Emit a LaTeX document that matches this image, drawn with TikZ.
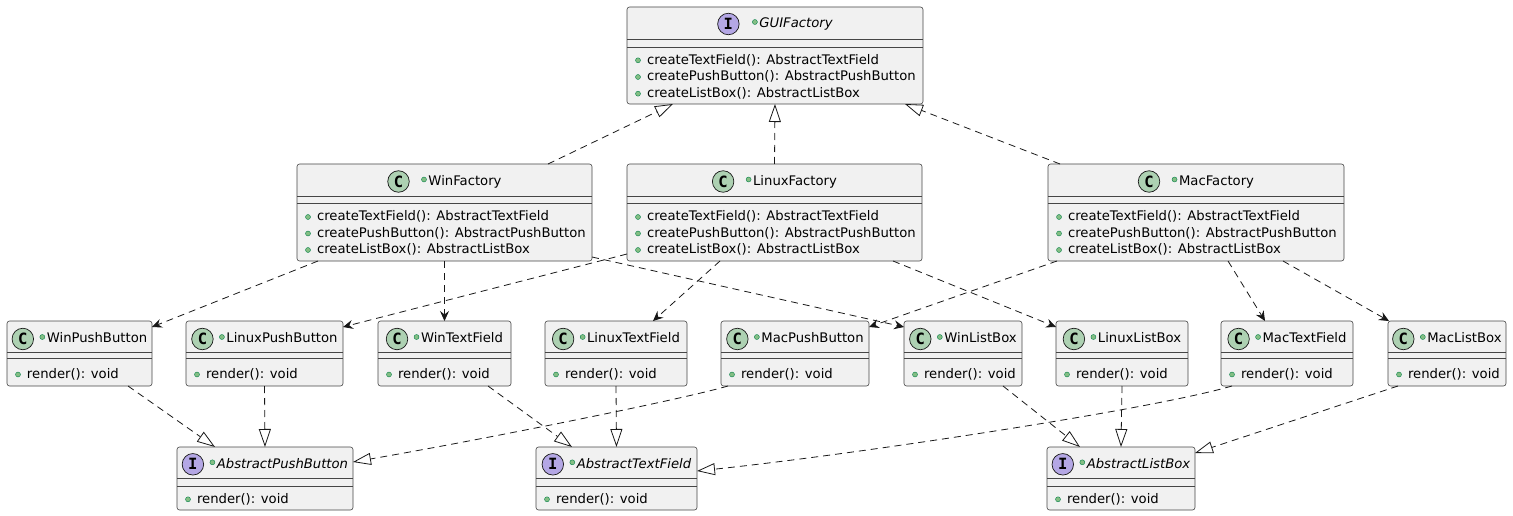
\documentclass[tikz,border=0pt]{standalone}
\usepackage{fontspec}
\setmainfont{DejaVu Sans}
\newfontfamily\iconfont{DejaVu Sans Mono}
\usetikzlibrary{arrows.meta}

\definecolor{boxfill}{HTML}{F1F1F1}
\definecolor{boxline}{HTML}{181818}
\definecolor{classicon}{HTML}{ADD1B2}
\definecolor{ifaceicon}{HTML}{B4A7E5}
\definecolor{pubfill}{HTML}{84BE84}
\definecolor{publine}{HTML}{038048}

\tikzset{
  umlbox/.style={draw=boxline!80, fill=boxfill, line width=0.6pt, rounded corners=2.5pt,
    inner sep=0pt, outer sep=0pt},
  rule/.style={draw=boxline!80, line width=0.6pt},
  txt/.style={inner sep=0pt, outer sep=0pt, text height=9.6pt, text depth=0pt,
    font=\fontsize{13.2}{15}\selectfont},
  icon/.style={circle, draw=boxline, line width=0.7pt, minimum size=21.5pt, inner sep=0pt,
    font=\iconfont\bfseries\fontsize{15.5}{15.5}\selectfont},
  pubdot/.style={circle, fill=pubfill, draw=publine, line width=0.4pt, minimum size=5pt,
    inner sep=0pt},
  link/.style={draw=boxline, line width=0.8pt, dash pattern=on 7pt off 5pt},
  uses/.style={link, -{Stealth[length=10pt,width=9pt,inset=3.5pt]}},
  realizes/.style={link, -{Triangle[length=18pt,width=12pt,fill=white]}},
}

% box frame: name, x1, y1, x2, y2, first rule y, second rule y
\newcommand\umlframe[7]{%
  \node[umlbox, minimum width={(#4-#2)*1pt}, minimum height={(#5-#3)*1pt}]
    (#1) at ({(#2+#4)/2},{(#3+#5)/2}) {};
  \draw[rule] (#2,#6) -- (#4,#6);
  \draw[rule] (#2,#7) -- (#4,#7);
}
% header: name, icon fill, letter, centre x, centre y, icon offset, title
\newcommand\umlhead[7]{%
  \node[txt] (#1-t) at ({#4+(11+#6)/2},#5) {#7};
  \node[icon, fill=#2] (#1-i) at ([xshift=-#6pt, yshift=-1pt]#1-t.west) {#3};
  \node[pubdot] (#1-d) at ([xshift=-4.5pt, yshift=1pt]#1-t.west) {};
}
% public operation: name, box left x, centre y, text
\newcommand\umlop[4]{%
  \node[pubdot] (#1-d) at ({#2+11},{#3+1}) {};
  \node[txt, anchor=west] (#1) at ({#2+20},#3) {#4};
}

\begin{document}
\begin{tikzpicture}[x=1pt,y=-1pt]
\useasboundingbox (0,0) rectangle (1513,516);

% abstract factory interface
\umlframe{gf}{627}{7}{923}{104}{39}{47}
\umlhead{gf}{ifaceicon}{I}{775}{23}{31}{\itshape GUIFactory}
\umlop{gf-1}{627}{59.3}{createTextField(): AbstractTextField}
\umlop{gf-2}{627}{76}{createPushButton(): AbstractPushButton}
\umlop{gf-3}{627}{92.7}{createListBox(): AbstractListBox}

% concrete factories
\umlframe{wf}{297}{164}{592}{261}{196}{203}
\umlhead{wf}{classicon}{C}{444.5}{180.5}{30}{WinFactory}
\umlop{wf-1}{297}{216}{createTextField(): AbstractTextField}
\umlop{wf-2}{297}{232.5}{createPushButton(): AbstractPushButton}
\umlop{wf-3}{297}{249}{createListBox(): AbstractListBox}

\umlframe{lf}{627}{164}{922}{261}{196}{203}
\umlhead{lf}{classicon}{C}{774.5}{180.5}{30}{LinuxFactory}
\umlop{lf-1}{627}{216}{createTextField(): AbstractTextField}
\umlop{lf-2}{627}{232.5}{createPushButton(): AbstractPushButton}
\umlop{lf-3}{627}{249}{createListBox(): AbstractListBox}

\umlframe{mf}{1048}{164}{1344}{261}{196}{203}
\umlhead{mf}{classicon}{C}{1196}{180.5}{30}{MacFactory}
\umlop{mf-1}{1048}{216}{createTextField(): AbstractTextField}
\umlop{mf-2}{1048}{232.5}{createPushButton(): AbstractPushButton}
\umlop{mf-3}{1048}{249}{createListBox(): AbstractListBox}

% concrete products
\umlframe{wpb}{7}{321}{152}{386}{352}{358}
\umlhead{wpb}{classicon}{C}{79.5}{338}{24}{WinPushButton}
\umlop{wpb-1}{7}{373.5}{render(): void}

\umlframe{lpb}{186}{321}{343}{386}{352}{358}
\umlhead{lpb}{classicon}{C}{264.5}{338}{24}{LinuxPushButton}
\umlop{lpb-1}{186}{373.5}{render(): void}

\umlframe{wtf}{378}{321}{511}{386}{352}{358}
\umlhead{wtf}{classicon}{C}{444.5}{338}{24}{WinTextField}
\umlop{wtf-1}{378}{373.5}{render(): void}

\umlframe{ltf}{545}{321}{687}{386}{352}{358}
\umlhead{ltf}{classicon}{C}{616}{338}{24}{LinuxTextField}
\umlop{ltf-1}{545}{373.5}{render(): void}

\umlframe{mpb}{721}{321}{869}{386}{352}{358}
\umlhead{mpb}{classicon}{C}{795}{338}{24}{MacPushButton}
\umlop{mpb-1}{721}{373.5}{render(): void}

\umlframe{wlb}{904}{321}{1022}{386}{352}{358}
\umlhead{wlb}{classicon}{C}{963}{338}{24}{WinListBox}
\umlop{wlb-1}{904}{373.5}{render(): void}

\umlframe{llb}{1056}{321}{1188}{386}{352}{358}
\umlhead{llb}{classicon}{C}{1122}{338}{24}{LinuxListBox}
\umlop{llb-1}{1056}{373.5}{render(): void}

\umlframe{mtf}{1221}{321}{1353}{386}{352}{358}
\umlhead{mtf}{classicon}{C}{1287}{338}{24}{MacTextField}
\umlop{mtf-1}{1221}{373.5}{render(): void}

\umlframe{mlb}{1388}{321}{1506}{386}{352}{358}
\umlhead{mlb}{classicon}{C}{1447}{338}{24}{MacListBox}
\umlop{mlb-1}{1388}{373.5}{render(): void}

% abstract products
\umlframe{apb}{177}{447}{353}{510}{478}{486}
\umlhead{apb}{ifaceicon}{I}{265}{463.3}{24}{\itshape AbstractPushButton}
\umlop{apb-1}{177}{498.3}{render(): void}

\umlframe{atf}{536}{447}{697}{510}{478}{486}
\umlhead{atf}{ifaceicon}{I}{616.5}{463.3}{24}{\itshape AbstractTextField}
\umlop{atf-1}{536}{498.3}{render(): void}

\umlframe{alb}{1047}{447}{1195}{510}{478}{486}
\umlhead{alb}{ifaceicon}{I}{1121}{463.3}{24}{\itshape AbstractListBox}
\umlop{alb-1}{1047}{498.3}{render(): void}

% factories implement GUIFactory
\draw[realizes] ([xshift=-44pt]wf.north east) -- ([xshift=46pt]gf.south west);
\draw[realizes] (lf.north) -- (gf.south);
\draw[realizes] ([xshift=12pt]mf.north west) -- ([xshift=-18pt]gf.south east);

% factories create products
\draw[uses] ([xshift=21pt]wf.south west) -- ([yshift=-6pt]wpb.north east);
\draw[uses] (wf.south) -- (wtf.north);
\draw[uses] ([yshift=4pt]wf.south east) -- ([yshift=-6pt]wlb.north west);
\draw[uses] ([yshift=7pt]lf.south west) -- ([yshift=-6pt]lpb.north east);
\draw[uses] ([xshift=93pt]lf.south west) -- ([xshift=-34pt]ltf.north east);
\draw[uses] ([xshift=-29pt]lf.south east) -- ([yshift=-6pt]llb.north west);
\draw[uses] ([xshift=9pt]mf.south west) -- ([yshift=-6pt]mpb.north east);
\draw[uses] ([xshift=180pt]mf.south west) -- ([xshift=44pt]mtf.north west);
\draw[uses] ([xshift=-61pt]mf.south east) -- ([xshift=1pt]mlb.north west);

% products implement their interfaces
\draw[realizes] ([xshift=-24pt]wpb.south east) -- ([xshift=38pt]apb.north west);
\draw[realizes] (lpb.south) -- (apb.north);
\draw[realizes] ([xshift=7pt]mpb.south west) .. controls (680,400) and (480,440) .. ([yshift=-15pt]apb.north east);
\draw[realizes] ([xshift=-23pt]wtf.south east) -- ([xshift=36pt]atf.north west);
\draw[realizes] (ltf.south) -- (atf.north);
\draw[realizes] ([xshift=11pt]mtf.south west) .. controls (1150,410) and (850,455) .. ([yshift=-24pt]atf.north east);
\draw[realizes] ([xshift=-19pt]wlb.south east) -- ([xshift=33pt]alb.north west);
\draw[realizes] (llb.south) -- (alb.north);
\draw[realizes] ([xshift=10pt]mlb.south west) -- ([yshift=-6pt]alb.north east);
\end{tikzpicture}
\end{document}
